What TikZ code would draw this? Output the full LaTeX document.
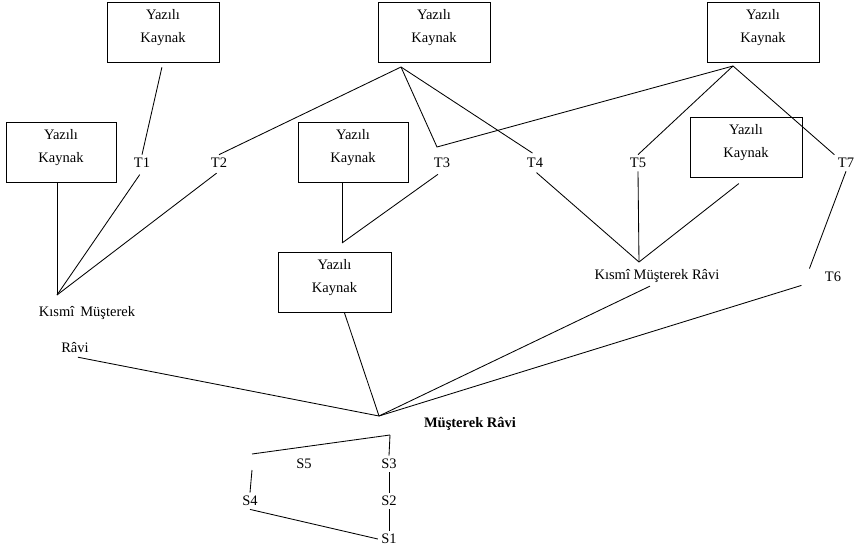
\documentclass[tikz,border=0pt]{standalone}
\usepackage{fontspec}
\setmainfont{Liberation Serif}

\begin{document}
\begin{tikzpicture}[x=1pt,y=-1pt,every node/.style={font=\fontsize{14.5}{17.5}\selectfont},
   kaynak/.style={draw,line width=0.9pt,minimum width=112pt,minimum height=60pt,align=center,text depth=13pt},
   link/.style={line width=0.85pt}]
   \useasboundingbox (0,0) rectangle (855,546);
   % yazili kaynaklar
   \node[kaynak] (b1) at (163,32) {Yazılı\\[5.5pt]Kaynak};
   \node[kaynak,minimum width=110pt] (b2) at (61,152) {Yazılı\\[5.5pt]Kaynak};
   \node[kaynak] (b3) at (434,32) {Yazılı\\[5.5pt]Kaynak};
   \node[kaynak,minimum width=110pt] (b4) at (353,152) {Yazılı\\[5.5pt]Kaynak};
   \node[kaynak,minimum width=113pt] (b5) at (334.5,282.5) {Yazılı\\[5.5pt]Kaynak};
   \node[kaynak] (b6) at (763,32) {Yazılı\\[5.5pt]Kaynak};
   \node[kaynak] (b7) at (746,147.5) {Yazılı\\[5.5pt]Kaynak};
   % tarikler
   \node (t1) at (142,163) {T1};
   \node (t2) at (219,163) {T2};
   \node (t3) at (442,163) {T3};
   \node (t4) at (535,163) {T4};
   \node (t5) at (638,163) {T5};
   \node (t7) at (846,163) {T7};
   \node (t6) at (833,277) {T6};
   % ravi
   \node (kml) at (87,313) {Kısmî\,\ Müşterek};
   \node (kmlravi) at (75,348) {Râvi};
   \node (kmr) at (657,276) {Kısmî Müşterek Râvi};
   \node[font=\fontsize{14.5}{17.5}\selectfont\bfseries] (mr) at (470,424) {Müşterek Râvi};
   \node (s5) at (304,464) {S5};
   \node (s3) at (389,464) {S3};
   \node (s4) at (250,501) {S4};
   \node (s2) at (389,501) {S2};
   \node (s1) at (389,539) {S1};
   % serbest uclar
   \coordinate (j3) at (401,67);
   \coordinate (j6) at (733,66);
   \coordinate (k3) at (437,147);
   \coordinate (j45) at (342,243);
   \coordinate (jkm) at (639,262);
   \coordinate (jkl) at (57,295);
   \coordinate (jmr) at (379,416);
   \coordinate (ja) at (390,435);
   \coordinate (jb) at (252,454);
   \coordinate (jc) at (252,470);
   % cizgiler
   \draw[link,shorten <=5pt] (b1.south) -- (t1.north);
   \draw[link,shorten <=4pt] (t1.south) -- (jkl);
   \draw[link,shorten <=3pt] (t2.south) -- (jkl);
   \draw[link,shorten <=1pt] (b2.south -| jkl) -- (jkl);
   \draw[link] (j3) -- (t2.north);
   \draw[link] (j3) -- (k3) -- (j6);
   \draw[link,shorten >=3pt] (j3) -- (t4.north);
   \draw[link] (j6) -- (t5.north);
   \draw[link] (j6) -- (t7.north west);
   \draw[link] (t7.south) -- ([xshift=-12pt]t6.north west);
   \draw[link] (t5.south) -- (jkm);
   \draw[link,shorten <=2pt] (t4.south) -- (jkm);
   \draw[link,shorten <=9pt] (b7.south) -- (jkm);
   \draw[link] (b4.south -| j45) -- (j45);
   \draw[link,shorten <=5pt] (t3.south) -- (j45);
   \draw[link] ([xshift=10pt]b5.south) -- (jmr);
   \draw[link,shorten <=3pt] (kmlravi.south) -- (jmr);
   \draw[link] ([xshift=-7pt]kmr.south) -- (jmr);
   \draw[link] ([xshift=-20pt]t6.south west) -- (jmr);
   \draw[link] (ja) -- (jb);
   \draw[link] (ja) -- (s3.north);
   \draw[link] (jc) -- (s4.north);
   \draw[link] (s3.south) -- (s2.north);
   \draw[link] (s2.south) -- (s1.north);
   \draw[link] (s4.south) -- (s1.west);
   %\node at (466,424) {Müşterek Râvi};
\end{tikzpicture}
\end{document}
